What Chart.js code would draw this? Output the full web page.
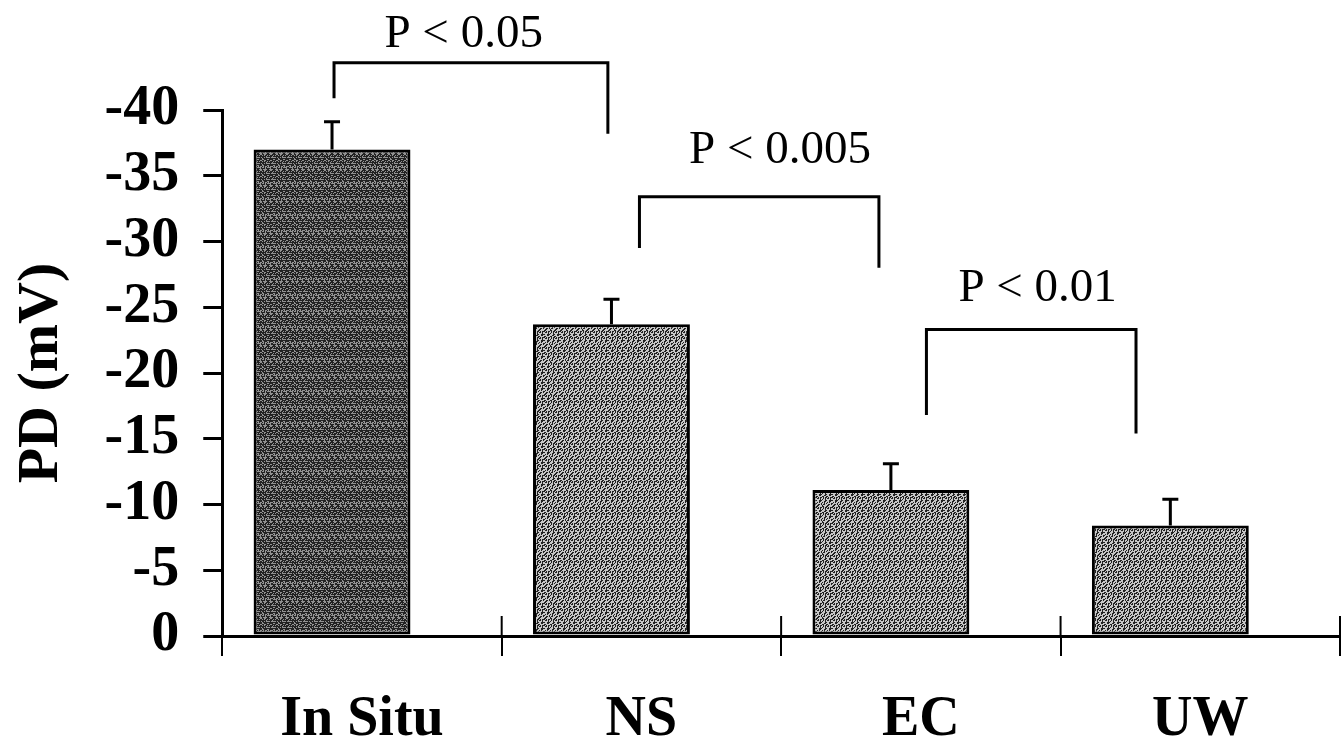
<!DOCTYPE html>
<html>
<head>
<meta charset="utf-8">
<script src="https://cdn.jsdelivr.net/npm/chart.js@4/dist/chart.umd.min.js"></script>
<style>
  body { margin: 0; background: #fff; }
</style>
</head>
<body>
<canvas id="chart" width="1343" height="755"></canvas>
<script>
// transepithelial potential difference, mean and SEM per group
const groups = ['In Situ', 'NS', 'EC', 'UW'];
const pd = [-37.0, -23.7, -11.1, -8.4];
const sem = [2.1, 1.9, 2.0, 2.0];
const pLabels = ['P < 0.05', 'P < 0.005', 'P < 0.01'];

// where the significance brackets sit (category index / mV)
const bracketGeom = [
    { x0: -0.1, x1: 0.88, top: -43.6, leg0: -40.9, leg1: -38.2, tx: 0.364, ty: -44.8 },
    { x0: 0.993, x1: 1.85, top: -33.4, leg0: -29.5, leg1: -28.0, tx: 1.496, ty: -36.0 },
    { x0: 2.02, x1: 2.77, top: -23.3, leg0: -16.8, leg1: -15.4, tx: 2.418, ty: -25.5 }
];

const serif = '"Liberation Serif", "Times New Roman", serif';

function stipple(base, density) {
    const c = document.createElement('canvas');
    c.width = c.height = 16;
    const g = c.getContext('2d');
    g.fillStyle = base;
    g.fillRect(0, 0, 16, 16);
    g.fillStyle = '#222';
    for (let y = 0; y < 16; y++) {
        for (let x = 0; x < 16; x++) {
            const h = (x * 7 + y * 13 + (x * y) % 5 * 3 + (x % 2) * 4) % 10;
            if (h < density) g.fillRect(x, y, 1, 1);
        }
    }
    return g.createPattern(c, 'repeat');
}

const darkFill = stipple('#929292', 6);
const lightFill = stipple('#c8c8c8', 4);

const errorBars = {
    id: 'errorBars',
    afterDatasetsDraw(chart) {
        const ctx = chart.ctx;
        const y = chart.scales.y;
        const meta = chart.getDatasetMeta(0);
        ctx.save();
        ctx.strokeStyle = '#000';
        ctx.lineWidth = 3;
        meta.data.forEach((bar, i) => {
            const yCap = y.getPixelForValue(pd[i] - sem[i]);
            ctx.beginPath();
            ctx.moveTo(bar.x, bar.y);
            ctx.lineTo(bar.x, yCap);
            ctx.moveTo(bar.x - 8, yCap);
            ctx.lineTo(bar.x + 8, yCap);
            ctx.stroke();
        });
        ctx.restore();
    }
};

const brackets = {
    id: 'brackets',
    afterDraw(chart) {
        const ctx = chart.ctx;
        const x = chart.scales.x;
        const y = chart.scales.y;
        ctx.save();
        ctx.strokeStyle = '#000';
        ctx.lineWidth = 3;
        ctx.fillStyle = '#000';
        ctx.font = '47px ' + serif;
        ctx.textAlign = 'center';
        ctx.textBaseline = 'alphabetic';
        bracketGeom.forEach((b, i) => {
            const xa = x.getPixelForValue(b.x0);
            const xb = x.getPixelForValue(b.x1);
            const yt = y.getPixelForValue(b.top);
            ctx.beginPath();
            ctx.moveTo(xa, y.getPixelForValue(b.leg0));
            ctx.lineTo(xa, yt);
            ctx.lineTo(xb, yt);
            ctx.lineTo(xb, y.getPixelForValue(b.leg1));
            ctx.stroke();
            ctx.fillText(pLabels[i], x.getPixelForValue(b.tx), y.getPixelForValue(b.ty));
        });
        ctx.restore();
    }
};

// category separators cross the axis line
const innerTicks = {
    id: 'innerTicks',
    afterDraw(chart) {
        const ctx = chart.ctx;
        const x = chart.scales.x;
        const bottom = chart.chartArea.bottom;
        ctx.save();
        ctx.strokeStyle = '#000';
        ctx.lineWidth = 2;
        for (let i = 0; i <= groups.length; i++) {
            const px = x.getPixelForValue(i - 0.5);
            ctx.beginPath();
            ctx.moveTo(px, bottom - 20);
            ctx.lineTo(px, bottom);
            ctx.stroke();
        }
        ctx.restore();
    }
};

new Chart(document.getElementById('chart'), {
    type: 'bar',
    data: {
        labels: groups,
        datasets: [{
            data: pd,
            backgroundColor: [darkFill, lightFill, lightFill, lightFill],
            borderColor: '#000',
            borderWidth: 3,
            borderSkipped: false,
            categoryPercentage: 0.4286,
            barPercentage: 2.62
        }, {
            // empty slot: pushes the bars left of the category centre
            data: groups.map(() => null),
            categoryPercentage: 0.4286
        }]
    },
    options: {
        responsive: false,
        animation: false,
        layout: { padding: { top: 110, right: 3, left: 4, bottom: -31 } },
        plugins: {
            legend: { display: false },
            tooltip: { enabled: false }
        },
        scales: {
            x: {
                grid: { offset: true, drawOnChartArea: false, tickLength: 20, color: '#000', lineWidth: 2 },
                border: { color: '#000', width: 3 },
                ticks: { color: '#000', padding: 37, font: { family: serif, weight: 'bold', size: 56, lineHeight: 1.0 } }
            },
            y: {
                reverse: true,
                min: -40,
                max: 0,
                grid: { drawOnChartArea: false, tickLength: 19, color: '#000', lineWidth: 3 },
                border: { color: '#000', width: 3 },
                ticks: {
                    stepSize: 5,
                    autoSkip: false,
                    color: '#000',
                    padding: 24,
                    font: { family: serif, weight: 'bold', size: 56, lineHeight: 0.2 }
                },
                title: {
                    display: true,
                    text: 'PD (mV)',
                    color: '#000',
                    padding: { top: 3, bottom: 4 },
                    font: { family: serif, weight: 'bold', size: 58 }
                }
            }
        }
    },
    plugins: [errorBars, brackets, innerTicks]
});
</script>
</body>
</html>
